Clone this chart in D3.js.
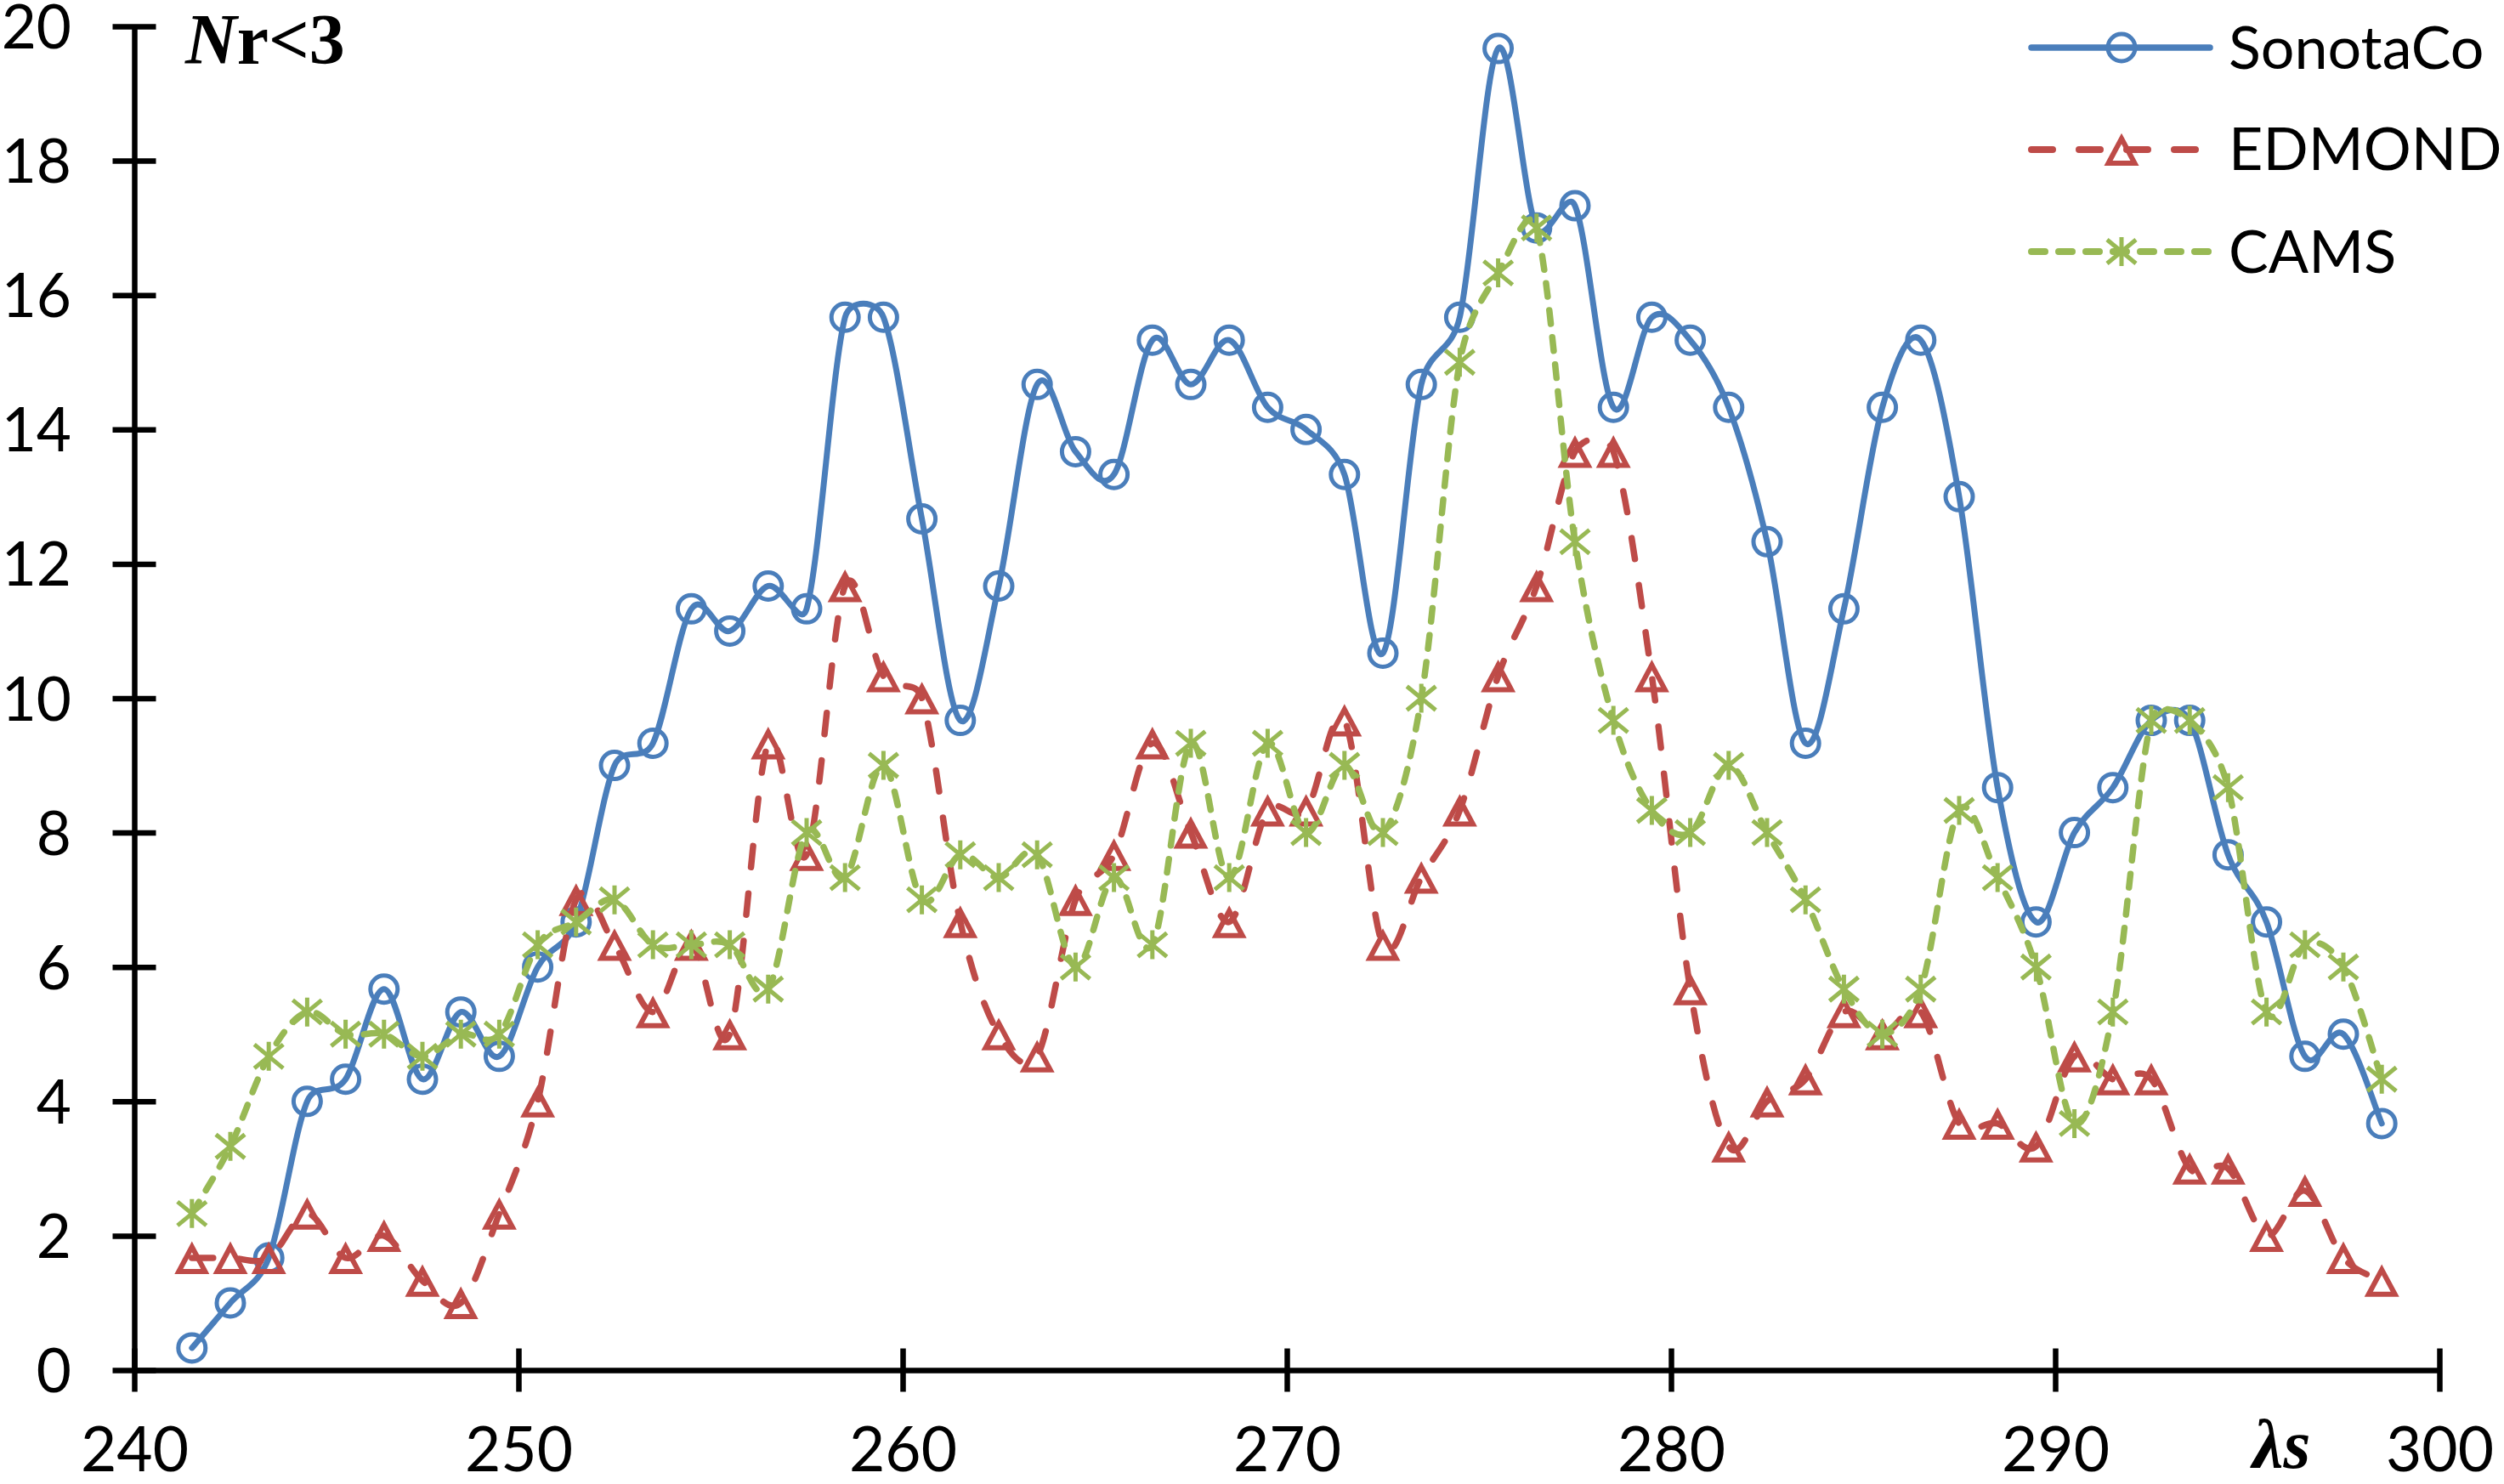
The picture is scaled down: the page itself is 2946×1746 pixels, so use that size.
<!DOCTYPE html>
<html><head><meta charset="utf-8">
<script src="https://cdn.jsdelivr.net/npm/d3@7"></script>
<style>html,body{margin:0;padding:0;background:#fff;} svg{display:block;background:#fff;}</style>
</head><body>
<svg id="chart" width="2946" height="1746"></svg>
<script>
// ---- data ----
const lambdaS = [241.5,242.5,243.5,244.5,245.5,246.5,247.5,248.5,249.5,250.5,
  251.5,252.5,253.5,254.5,255.5,256.5,257.5,258.5,259.5,260.5,
  261.5,262.5,263.5,264.5,265.5,266.5,267.5,268.5,269.5,270.5,
  271.5,272.5,273.5,274.5,275.5,276.5,277.5,278.5,279.5,280.5,
  281.5,282.5,283.5,284.5,285.5,286.5,287.5,288.5,289.5,290.5,
  291.5,292.5,293.5,294.5,295.5,296.5,297.5,298.5];
const sonotaCo = [0.33,1.0,1.67,4.0,4.33,5.67,4.33,5.33,4.67,6.0,
  6.67,9.0,9.33,11.33,11.0,11.67,11.33,15.67,15.67,12.67,
  9.67,11.67,14.67,13.67,13.33,15.33,14.67,15.33,14.33,14.0,
  13.33,10.67,14.67,15.67,19.67,17.0,17.33,14.33,15.67,15.33,
  14.33,12.33,9.33,11.33,14.33,15.33,13.0,8.67,6.67,8.0,
  8.67,9.67,9.67,7.67,6.67,4.67,5.0,3.67];
const edmond = [1.67,1.67,1.67,2.33,1.67,2.0,1.33,1.0,2.33,4.0,
  7.0,6.33,5.33,6.33,5.0,9.33,7.67,11.67,10.33,10.0,
  6.67,5.0,4.67,7.0,7.67,9.33,8.0,6.67,8.33,8.33,
  9.67,6.33,7.33,8.33,10.33,11.67,13.67,13.67,10.33,5.67,
  3.33,4.0,4.33,5.33,5.0,5.33,3.67,3.67,3.33,4.67,
  4.33,4.33,3.0,3.0,2.0,2.67,1.67,1.33];
const cams = [2.33,3.33,4.67,5.33,5.0,5.0,4.67,5.0,5.0,6.33,
  6.67,7.0,6.33,6.33,6.33,5.67,8.0,7.33,9.0,7.0,
  7.67,7.33,7.67,6.0,7.33,6.33,9.33,7.33,9.33,8.0,
  9.0,8.0,10.0,15.0,16.33,17.0,12.33,9.67,8.33,8.0,
  9.0,8.0,7.0,5.67,5.0,5.67,8.33,7.33,6.0,3.67,
  5.33,9.67,9.67,8.67,5.33,6.33,6.0,4.33];
const seriesNames = ["SonotaCo", "EDMOND", "CAMS"];
const xTickValues = [240,250,260,270,280,290,300];
const yTickValues = [0,2,4,6,8,10,12,14,16,18,20];

// ---- setup ----
const svg = d3.select("#chart");
const x = d3.scaleLinear().domain([240,300]).range([158,2870]);
const y = d3.scaleLinear().domain([0,20]).range([1612,31]);
const labelFont = "Lato, 'Open Sans', sans-serif";
const colors = {SonotaCo:"#4a7ebb", EDMOND:"#be4b48", CAMS:"#98b954"};

// Excel-like smoothed line: Bezier with 1/6 tangents, capped at half the segment length
function excelSmooth(context){
  let pts;
  return {
    areaStart(){}, areaEnd(){},
    lineStart(){ pts = []; },
    point(px,py){ pts.push([+px,+py]); },
    lineEnd(){
      const n = pts.length; if(!n) return;
      context.moveTo(pts[0][0], pts[0][1]);
      const tan = i => { const a = pts[Math.max(i-1,0)], b = pts[Math.min(i+1,n-1)];
        return [(b[0]-a[0])/6, (b[1]-a[1])/6]; };
      for(let i=0;i<n-1;i++){
        const p1 = pts[i], p2 = pts[i+1];
        const m = Math.hypot(p2[0]-p1[0], p2[1]-p1[1]) / 2;
        const cap = t => { const l = Math.hypot(t[0],t[1]); return l > m ? [t[0]*m/l, t[1]*m/l] : t; };
        const t1 = cap(tan(i)), t2 = cap(tan(i+1));
        context.bezierCurveTo(p1[0]+t1[0], p1[1]+t1[1], p2[0]-t2[0], p2[1]-t2[1], p2[0], p2[1]);
      }
    }
  };
}

// ---- axes ----
const gx = svg.append("g").attr("transform",`translate(0,${y(0)})`)
  .call(d3.axisBottom(x).tickValues(xTickValues).tickSizeOuter(0).tickFormat(d3.format("d")));
gx.select(".domain").attr("stroke","#000").attr("stroke-width",6.5);
gx.selectAll(".tick line").attr("stroke","#000").attr("stroke-width",6.5).attr("y1",-25.5).attr("y2",25.5);
gx.selectAll(".tick text").attr("y",119).attr("dy",0).attr("fill","#000")
  .style("font-family",labelFont).style("font-size","73px");

const gy = svg.append("g").attr("transform",`translate(${x(240)},0)`)
  .call(d3.axisLeft(y).tickValues(yTickValues).tickSizeOuter(0).tickFormat(d3.format("d")));
gy.select(".domain").attr("stroke","#000").attr("stroke-width",6.5);
gy.selectAll(".tick line").attr("stroke","#000").attr("stroke-width",6.5).attr("x1",-25.5).attr("x2",25.5);
gy.selectAll(".tick text").attr("x",-74).attr("dy","0.36em").attr("fill","#000")
  .style("font-family",labelFont).style("font-size","71px").attr("text-anchor","end");

// ---- marker shapes ----
function drawMarker(g, name, cx, cy){
  const c = colors[name];
  if(name==="SonotaCo"){
    g.append("circle").attr("cx",cx).attr("cy",cy).attr("r",16)
      .attr("fill","none").attr("stroke",c).attr("stroke-width",5);
  } else if(name==="EDMOND"){
    g.append("path").attr("d",`M${cx},${cy-13}L${cx+15.5},${cy+16}L${cx-15.5},${cy+16}Z`)
      .attr("fill","none").attr("stroke",c).attr("stroke-width",6).attr("stroke-linejoin","miter");
  } else {
    g.append("path").attr("d",`M${cx},${cy-17}V${cy+17}M${cx-17},${cy-14}L${cx+17},${cy+14}M${cx-17},${cy+14}L${cx+17},${cy-14}`)
      .attr("fill","none").attr("stroke",c).attr("stroke-width",5);
  }
}
const dashes = {SonotaCo:null, EDMOND:"25 31", CAMS:"16 16"};
const widths = {SonotaCo:7, EDMOND:7.5, CAMS:7.5};

// ---- series ----
const seriesData = {SonotaCo:sonotaCo, EDMOND:edmond, CAMS:cams};
const line = d3.line().x(d=>x(d[0])).y(d=>y(d[1])).curve(excelSmooth);
seriesNames.forEach(name=>{
  const pts = lambdaS.map((l,i)=>[l, seriesData[name][i]]);
  const g = svg.append("g");
  g.append("path").attr("d",line(pts)).attr("fill","none")
    .attr("stroke",colors[name]).attr("stroke-width",widths[name])
    .attr("stroke-linecap","round").attr("stroke-linejoin","round")
    .attr("stroke-dasharray",dashes[name]);
  pts.forEach(p=>drawMarker(g, name, x(p[0]), y(p[1])));
});

// ---- legend ----
const legendY = [56,176,296];
const legendBase = [81,200,321];
seriesNames.forEach((name,i)=>{
  const g = svg.append("g");
  g.append("line").attr("x1",2390).attr("x2",2600).attr("y1",legendY[i]).attr("y2",legendY[i])
    .attr("stroke",colors[name]).attr("stroke-width",widths[name]+0.5)
    .attr("stroke-linecap","round").attr("stroke-dasharray",dashes[name]);
  drawMarker(g, name, 2496, legendY[i]);
  g.append("text").attr("x",2622).attr("y",legendBase[i]).text(name)
    .style("font-family",labelFont).style("font-size","70px").attr("fill","#000");
});

// ---- annotations ----
const t1 = svg.append("text").attr("x",218).attr("y",75)
  .style("font-family","'Liberation Serif', 'Times New Roman', serif").style("font-size","84px")
  .style("font-weight","bold").attr("fill","#000");
t1.append("tspan").style("font-style","italic").text("N");
t1.append("tspan").text("r<3");
svg.append("text").attr("x",2650).attr("y",1727)
  .style("font-family","'Liberation Serif', 'Times New Roman', serif").style("font-size","82px")
  .style("font-weight","bold").style("font-style","italic").attr("fill","#000").text("λs");
</script>
</body></html>
